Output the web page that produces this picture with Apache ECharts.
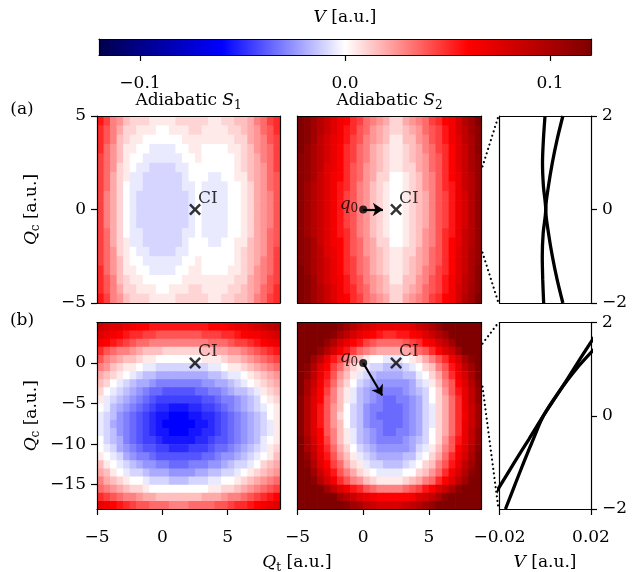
<!DOCTYPE html>
<html><head><meta charset="utf-8">
<script src="https://cdn.jsdelivr.net/npm/echarts@6/dist/echarts.min.js"></script>
<style>html,body{margin:0;padding:0;background:#fff}#c{width:641px;height:572px}</style>
</head><body><div id="c"></div>
<script>
// ---------- data ----------
// each character of a row is a contour level: value = (index in LEVEL_CHARS - 24) * 0.005
const LEVEL_CHARS = '0123456789abcdefghijklmnopqrstuvwxyzABCDEFGHIJKLM';
const LEVEL_ZERO_INDEX = 24;
const LEVEL_STEP = 0.005;
const COLOR_RANGE = [-0.12, 0.12];
const COLORBAR_TICKS = [-0.1, 0, 0.1];

const X_CENTERS = [-4.75,-4.25,-3.75,-3.25,-2.75,-2.25,-1.75,-1.25,-0.75,-0.25,0.25,0.75,1.25,1.75,2.25,2.75,3.25,3.75,4.25,4.75,5.25,5.75,6.25,6.75,7.25,7.75,8.25,8.75];
const TOP_Y_CENTERS = [4.75,4.25,3.75,3.25,2.75,2.25,1.75,1.25,0.75,0.25,-0.25,-0.75,-1.25,-1.75,-2.25,-2.75,-3.25,-3.75,-4.25,-4.75];
const BOTTOM_Y_CENTERS = [4.5,3.5,2.5,1.5,0.5,-0.5,-1.5,-2.5,-3.5,-4.5,-5.5,-6.5,-7.5,-8.5,-9.5,-10.5,-11.5,-12.5,-13.5,-14.5,-15.5,-16.5,-17.5];
const CELL_DX = 0.5, TOP_CELL_DY = 0.5, BOTTOM_CELL_DY = 1;

const S1_TOP = [
'zxutrqqqppppqqqqqppqqrrsuvxy',
'ywusqqpppoopppqqppppqqrstvwy',
'ywurqppooooooppppppppqqstuwx',
'yvtrppoonnnnooppooooppqrtuvx',
'xvtrpoonnnnnnoopooooopqrsuvx',
'xvtqponnmmmmnnooooooopqrstvx',
'xvsqpnnmmmmmmnooonnoopprstvw',
'xvsqonnmmmmmmnnonnnnoopqstvw',
'xusqonmmmmmmmmnonnnnoopqstuw',
'xusqonmmmmmmmmnonnnnoopqstuw',
'xusqonmmmmmmmmnonnnnoopqstuw',
'xusqonmmmmmmmmnonnnnoopqstuw',
'xvsqonnmmmmmmnnonnnnoopqstvw',
'xvsqpnnmmmmmmnooonnoopprstvw',
'xvtqponnmmmmnnooooooopqrstvx',
'xvtrpoonnnnnnoopooooopqrsuvx',
'yvtrppoonnnnooppooooppqrtuvx',
'ywurqppooooooppppppppqqstuwx',
'ywusqqpppoopppqqppppqqrstvwy',
'zxutrqqqppppqqqqqppqqrrsuvxy'];

const S2_TOP = [
'MLJHFDBAyxvutsqqstuvxyABEHJM',
'MLJHFDBzywvtsrqqrstvwxzBEGJL',
'MLJGECBzxwutsrpprrtuwxzBDGIL',
'MKIGECAyxvusrqppqrsuvxyADFIL',
'LKIGECAyxvusrqppqrstvwyADFIK',
'LKIGDCAywvtsrqppqqstvwyADFIK',
'LKIFDBAywvtsqqoopqrtuwyACFHK',
'LJHFDBzywutrqpoopqrtuwyzCFHK',
'LJHFDBzxwutrqpoopqrsuwxzCEHK',
'LJHFDBzxwutrqpoopqrsuwxzCEHK',
'LJHFDBzxwutrqpoopqrsuwxzCEHK',
'LJHFDBzxwutrqpoopqrsuwxzCEHK',
'LJHFDBzywutrqpoopqrtuwyzCFHK',
'LKIFDBAywvtsqqoopqrtuwyACFHK',
'LKIGDCAywvtsrqppqqstvwyADFIK',
'LKIGECAyxvusrqppqrstvwyADFIK',
'MKIGECAyxvusrqppqrsuvxyADFIL',
'MLJGECBzxwutsrpprrtuwxzBDGIL',
'MLJHFDBzywvtsrqqrstvwxzBEGJL',
'MLJHFDBAyxvutsqqstuvxyABEHJM'];

const S1_BOTTOM = [
'FEDDCBAAzzzzzzzzzAAABCCDEFGH',
'DCBAzyyxxwwwwwwwxxxyyzABBCDE',
'BAzyxwvvuuuuuuuuuvvvwxxyzABC',
'ywvuutsrrrqqqqqqrrssttuvwxyz',
'wutsrrqppooooooopppqrrstuvwx',
'utrqpponnmmmmmmmmnnoppqrstuv',
'srqponmllkkkkkkkkllmnnopqrst',
'rqonmlkkjiiiiiiijjkklmnopqrs',
'qonmlkjihhggggghhiijkllmnpqr',
'pnmlkjihgfffffffgghiijklmopq',
'onlkjihgfeedddeeffghijklmnop',
'nmljihgfeddcccddeefghijklmop',
'nmkjihgfedcccccddefghijklmnp',
'nmljihgfeddcccddeefghijklmnp',
'omlkihgffedddddeefgghijklnop',
'onmkjihggffeeefffghhijklmnpq',
'ponmkjiihggggggghhijjklmnopr',
'rponmlkjjiihhhiiijjklmmnoqrs',
'srponmmlkkkjjjjkkllmmnopqrst',
'usrqpoonmmmlllmmmnnoopqrstuv',
'vutsrqqpoooooooooppqqrstuvwx',
'yxwvuutssrrrrrrrssstuuvwxyzA',
'CBAzyxwwvvvuuuvvvvwwxyyzABCD'];

const S2_BOTTOM = [
'MMMMMMLJHFEDCCCCCDFGIKMMMMMM',
'MMMMMLIGECBAzyyzzABDFHJMMMMM',
'MMMMKHECAzxwvvvvwxyABEGJMMMM',
'MMMKHEBzxvutssssstvwyADFJMMM',
'MMJGCzxusrpoonnnopqsuwyBEILM',
'MLHDAxvsqpnmmlllmnoqruwzCGJM',
'MKGCzwtrpnmlkkkkllnoqsvyBEIM',
'MIFByvsqomlkjjjjjkmnpruwADHL',
'MIEAxurpnlkjiiiijklmoqtwzCGK',
'LHDAwurpnlkjihhiijkmoqsvyCGK',
'LHDzwtromljiihhhijkmnqsvyCFJ',
'LHDzwtqomljihhhhijkmnqsvyBFJ',
'LHDzwtromljiihhhijkmnqsvyCFJ',
'LHDAwurpnlkjihhiijkmoqsvyCGK',
'MIEAxurpnlkjiiiijklmoqtwzCGK',
'MIFByvsqomlkjjjjjkmnpruwADHL',
'MKGCzwtrpnmlkkkkllnoqsvyBEIM',
'MLHDAxvsqpnmmlllmnoqruwzCGJM',
'MMJFCzwusqponnnnooqrtvyBEHLM',
'MMLHEBywutrqppppqrsuvyADGJMM',
'MMMMJGDBzywvuuuuvwxzADFILMMM',
'MMMMMMJHFDCBAAAAABDEGILMMMMM',
'MMMMMMMLJIGFEEEEFGHJKMMMMMMM'];

const CI_POINT = [2.5, 0];
const Q0_POINT = [0, 0];
const ARROW_TOP_END = [1.5, 0];
const ARROW_BOTTOM_END = [1.45, -4.0];

const CUT_QC = [-2, -1.5, -1, -0.5, 0, 0.5, 1, 1.5, 2];
const CUT_TOP_S1 = [-0.0007, -0.0011, -0.0013, -0.0009, 0.0002, -0.0008, -0.0012, -0.0008, -0.0001];
const CUT_TOP_S2 = [0.0077, 0.0052, 0.0031, 0.0014, 0.0002, 0.0014, 0.0031, 0.0052, 0.0077];
const CUT_BOTTOM_S1 = [-0.0259, -0.0197, -0.0135, -0.0071, -0.0008, 0.0059, 0.0124, 0.0189, 0.0256];
const CUT_BOTTOM_S2 = [-0.0174, -0.0134, -0.0094, -0.0052, -0.0008, 0.0058, 0.0135, 0.0228, 0.0330];
const CONNECT_TOP = [[9, 2.3], [9, -2.3]];
const CONNECT_BOTTOM = [[9, 2.4], [9, -2.9]];

const QT_RANGE = [-5, 9], QC_TOP_RANGE = [-5, 5], QC_BOTTOM_RANGE = [-18, 5];
const V_CUT_RANGE = [-0.02, 0.02], QC_CUT_RANGE = [-2, 2];
const QT_TICKS = [-5, 0, 5], QC_TOP_TICKS = [-5, 0, 5], QC_BOTTOM_TICKS = [-15, -10, -5, 0];
const V_CUT_TICKS = [-0.02, 0.02], QC_CUT_TICKS = [-2, 0, 2];

// ---------- helpers ----------
function decode(rows, ys) {
  const out = [];
  rows.forEach((row, r) => {
    for (let c = 0; c < row.length; c++) {
      out.push([X_CENTERS[c], ys[r], (LEVEL_CHARS.indexOf(row[c]) - LEVEL_ZERO_INDEX) * LEVEL_STEP]);
    }
  });
  return out;
}
const FONT = '"DejaVu Serif", "Liberation Serif", serif';
const FS = 17;
const RICH = {
  i: {fontFamily: FONT, fontSize: FS, fontStyle: 'italic', lineHeight: 21, color: '#000'},
  r: {fontFamily: FONT, fontSize: FS, lineHeight: 21, color: '#000'},
  s: {fontFamily: FONT, fontSize: 12, lineHeight: 9, verticalAlign: 'bottom', color: '#000'}
};
const fmt = d => v => (v < 0 ? '\u2212' : '') + Math.abs(v).toFixed(d);

const GRIDS = [
  {left: 99, top: 39, width: 492, height: 16},        // 0 colorbar
  {left: 97, top: 116, width: 183, height: 187},      // 1 TL
  {left: 297.5, top: 116, width: 184, height: 187},   // 2 TM
  {left: 499.5, top: 116, width: 91.5, height: 187},  // 3 TR
  {left: 97, top: 322.5, width: 183, height: 186.5},  // 4 BL
  {left: 297.5, top: 322.5, width: 184, height: 186.5}, // 5 BM
  {left: 499.5, top: 322.5, width: 91.5, height: 186.5} // 6 BR
];

const xAxes = [], yAxes = [];
function axis(gi, pos, range, ticks, dec, extra, margin) {
  const horiz = pos === 'bottom' || pos === 'top';
  const a = {
    gridIndex: gi, type: 'value', position: pos, min: range[0], max: range[1], z: 5,
    splitLine: {show: false},
    axisLine: {show: true, onZero: false, lineStyle: {color: '#000', width: 1.2}},
    axisTick: {show: !!ticks, inside: false, length: 6, lineStyle: {color: '#000', width: 1.2}},
    axisLabel: {show: !!ticks, color: '#000', fontFamily: FONT, fontSize: FS,
      margin: margin || (horiz ? 20 : 11), formatter: fmt(dec || 0), showMinLabel: true, showMaxLabel: true}
  };
  if (ticks) { a.axisTick.customValues = ticks; a.axisLabel.customValues = ticks; }
  return Object.assign(a, extra || {});
}
function addGrid(gi, xr, yr, xb, yl, yrt, xdec, ydec, yName, xMargin) {
  xAxes.push(axis(gi, 'bottom', xr, xb, xdec, null, xMargin));
  xAxes.push(axis(gi, 'top', xr, null));
  const nameExtra = yName ? {name: yName, nameLocation: 'middle', nameRotate: 90, nameGap: 55,
    nameTextStyle: {rich: RICH, fontFamily: FONT, fontSize: FS, color: '#000'}} : null;
  yAxes.push(axis(gi, 'left', yr, yl, ydec, nameExtra));
  yAxes.push(axis(gi, 'right', yr, yrt, ydec));
}
const QC_NAME = '{i|Q}{s|c}{r| [a.u.]}';
addGrid(0, COLOR_RANGE, [0, 1], COLORBAR_TICKS, null, null, 1, 0, null, 20);
addGrid(1, QT_RANGE, QC_TOP_RANGE, null, QC_TOP_TICKS, null, 0, 0, QC_NAME);
addGrid(2, QT_RANGE, QC_TOP_RANGE, null, null, null, 0, 0);
addGrid(3, V_CUT_RANGE, QC_CUT_RANGE, null, null, QC_CUT_TICKS, 2, 0);
addGrid(4, QT_RANGE, QC_BOTTOM_RANGE, QT_TICKS, QC_BOTTOM_TICKS, null, 0, 0, QC_NAME);
addGrid(5, QT_RANGE, QC_BOTTOM_RANGE, QT_TICKS, null, null, 0, 0);
addGrid(6, V_CUT_RANGE, QC_CUT_RANGE, V_CUT_TICKS, null, QC_CUT_TICKS, 2, 0);

function heatSeries(rows, ys, dy, gi) {
  return {
    type: 'custom', xAxisIndex: 2 * gi, yAxisIndex: 2 * gi, data: decode(rows, ys),
    clip: true, silent: true, z: 1,
    renderItem(params, api) {
      const x = api.value(0), y = api.value(1);
      const p = api.coord([x - CELL_DX / 2, y + dy / 2]);
      const s = api.size([CELL_DX, dy]);
      return {type: 'rect', shape: {x: p[0], y: p[1], width: s[0] + 0.7, height: s[1] + 0.7},
        style: {fill: api.visual('color')}};
    }
  };
}
const X_SYMBOL = 'path://M0,1.5L1.5,0L5,3.5L8.5,0L10,1.5L6.5,5L10,8.5L8.5,10L5,6.5L1.5,10L0,8.5L3.5,5Z';
function ciSeries(gi) {
  return {type: 'scatter', xAxisIndex: 2 * gi, yAxisIndex: 2 * gi, data: [CI_POINT], symbol: X_SYMBOL,
    symbolSize: 12, itemStyle: {color: '#000'}, z: 10, silent: true,
    label: {show: true, formatter: 'CI', position: 'right', distance: 0, offset: [-3, -11],
      color: '#000', fontFamily: FONT, fontSize: FS}};
}
function q0Series(gi, end) {
  return {type: 'scatter', xAxisIndex: 2 * gi, yAxisIndex: 2 * gi, data: [Q0_POINT], symbol: 'circle',
    symbolSize: 8, itemStyle: {color: '#000'}, z: 11, silent: true,
    label: {show: true, formatter: '{i|q}{s|0}', rich: RICH, position: 'left', distance: 1, offset: [0, -5]},
    markLine: {silent: true, animation: false, symbol: ['none', 'arrow'], symbolSize: 10,
      lineStyle: {color: '#000', width: 2.2, type: 'solid'}, label: {show: false},
      data: [[{coord: Q0_POINT}, {coord: end}]]}};
}
function cutSeries(gi, vals) {
  return {type: 'line', xAxisIndex: 2 * gi, yAxisIndex: 2 * gi,
    data: CUT_QC.map((q, k) => [vals[k], q]), symbol: 'none', smooth: 0.3, clip: true, silent: true,
    lineStyle: {color: '#000', width: 3.3}, z: 6};
}

const series = [
  heatSeries(S1_TOP, TOP_Y_CENTERS, TOP_CELL_DY, 1),
  heatSeries(S2_TOP, TOP_Y_CENTERS, TOP_CELL_DY, 2),
  heatSeries(S1_BOTTOM, BOTTOM_Y_CENTERS, BOTTOM_CELL_DY, 4),
  heatSeries(S2_BOTTOM, BOTTOM_Y_CENTERS, BOTTOM_CELL_DY, 5),
  {type: 'custom', xAxisIndex: 0, yAxisIndex: 0, silent: true, z: 1,
    data: [[COLOR_RANGE[0], 0, COLOR_RANGE[1], 1]],
    renderItem(params, api) {
      const p0 = api.coord([api.value(0), api.value(3)]);
      const p1 = api.coord([api.value(2), api.value(1)]);
      return {type: 'rect', shape: {x: p0[0], y: p0[1], width: p1[0] - p0[0], height: p1[1] - p0[1]},
        style: {fill: new echarts.graphic.LinearGradient(0, 0, 1, 0, [
          {offset: 0, color: '#00004d'}, {offset: 0.25, color: '#0000ff'}, {offset: 0.5, color: '#ffffff'},
          {offset: 0.75, color: '#ff0000'}, {offset: 1, color: '#800000'}])}};
    }},
  ciSeries(1), ciSeries(2), ciSeries(4), ciSeries(5),
  q0Series(2, ARROW_TOP_END), q0Series(5, ARROW_BOTTOM_END),
  cutSeries(3, CUT_TOP_S1), cutSeries(3, CUT_TOP_S2),
  cutSeries(6, CUT_BOTTOM_S1), cutSeries(6, CUT_BOTTOM_S2)
];

const chart = echarts.init(document.getElementById('c'), null, {renderer: 'canvas'});
chart.setOption({
  animation: false,
  backgroundColor: '#fff',
  textStyle: {fontFamily: FONT},
  grid: GRIDS.map(g => Object.assign({containLabel: false}, g)),
  xAxis: xAxes, yAxis: yAxes,
  visualMap: {type: 'continuous', show: false, min: COLOR_RANGE[0], max: COLOR_RANGE[1], dimension: 2,
    seriesIndex: [0, 1, 2, 3],
    inRange: {color: ['#00004d', '#0000ff', '#ffffff', '#ff0000', '#800000']}},
  series: series
});

function txt(id, x, y, text, extra) {
  return Object.assign({type: 'text', id: id, x: x, y: y, silent: true, z: 30,
    style: Object.assign({text: text, rich: RICH, fontFamily: FONT, fontSize: FS, fill: '#000',
      align: 'center', verticalAlign: 'middle', textAlign: 'center', textVerticalAlign: 'middle'}, extra || {})});
}
const px = (gi, pt) => chart.convertToPixel({xAxisIndex: 2 * gi, yAxisIndex: 2 * gi}, pt);
function connector(id, giFrom, from, giTo, to) {
  const a = px(giFrom, from), b = px(giTo, to);
  return {type: 'line', id: id, silent: true, z: 20,
    shape: {x1: a[0] + 1, y1: a[1], x2: b[0] - 1, y2: b[1]},
    style: {stroke: '#000', lineWidth: 2.2, lineDash: [0.01, 4.6], lineCap: 'round'}};
}
chart.setOption({
  graphic: [
    txt('cbt', 345, 18, '{i|V}{r| [a.u.]}'),
    txt('t1', 188.5, 101, '{r|Adiabatic }{i|S}{s|1}'),
    txt('t2', 389.5, 101, '{r|Adiabatic }{i|S}{s|2}'),
    txt('pa', 22, 110, '(a)'),
    txt('pb', 22, 321, '(b)'),
    txt('xq', 297, 563, '{i|Q}{s|t}{r| [a.u.]}'),
    txt('xv', 545, 563, '{i|V}{r| [a.u.]}'),
    connector('c1', 2, CONNECT_TOP[0], 3, [V_CUT_RANGE[0], QC_CUT_RANGE[1]]),
    connector('c2', 2, CONNECT_TOP[1], 3, [V_CUT_RANGE[0], QC_CUT_RANGE[0]]),
    connector('c3', 5, CONNECT_BOTTOM[0], 6, [V_CUT_RANGE[0], QC_CUT_RANGE[1]]),
    connector('c4', 5, CONNECT_BOTTOM[1], 6, [V_CUT_RANGE[0], QC_CUT_RANGE[0]])
  ]
});
</script></body></html>
